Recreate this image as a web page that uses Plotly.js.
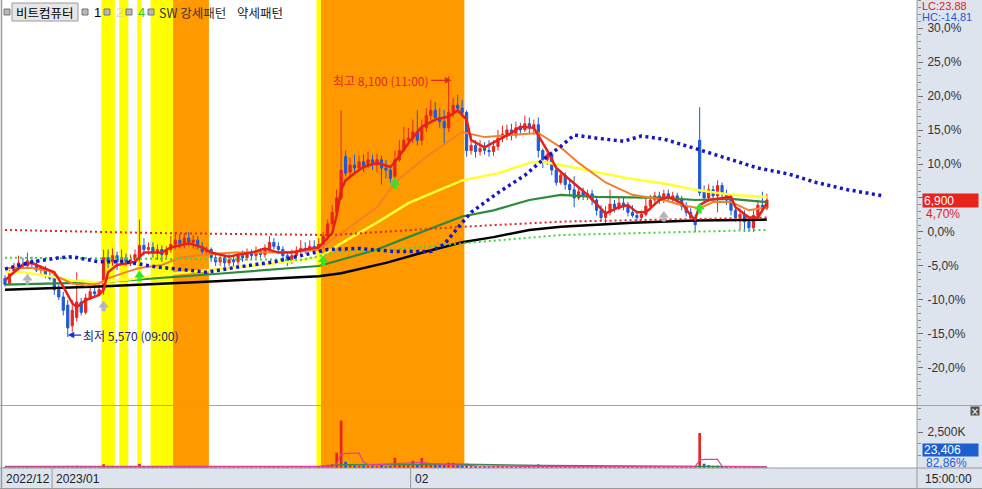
<!DOCTYPE html>
<html><head><meta charset="utf-8">
<script src="https://cdn.plot.ly/plotly-3.0.1.min.js"></script>
<style>html,body{margin:0;padding:0;background:#fff;overflow:hidden}#chart{width:982px;height:489px}</style>
</head><body><div id="chart"></div>
<script>
// ---------------- DATA ----------------
const stockName = "비트컴퓨터";
const basePrice = 6590;            // reference price for the % axis
const lastPrice = 6900;
const lastPctText = "4,70%";
const lastVolumeText = "23,406";
const lastVolumePctText = "82,86%";
const lcText = "LC:23,88";
const hcText = "HC:-14,81";
const highText = "최고 8,100 (11:00)";
const lowText = "최저 5,570 (09:00)";
const highBar = 99, highPrice = 8100;
const lowBar = 14, lowPrice = 5570;

const openPrice = [
 6140,6090,6200,6240,6280,6260,6310,6280,6220,6240,
 6170,6160,6030,5960,5880,5680,5760,5910,5810,5950,
 6010,5990,6030,6340,6300,6360,6300,6340,6300,6320,
 6350,6460,6420,6440,6400,6420,6370,6420,6470,6510,
 6480,6530,6490,6510,6450,6400,6420,6340,6300,6340,
 6290,6320,6300,6360,6340,6380,6360,6400,6370,6420,
 6490,6450,6420,6360,6300,6360,6400,6430,6420,6450,
 6420,6470,6550,6670,6780,6920,7320,7170,7240,7210,
 7270,7230,7290,7240,7290,7210,7190,7130,7290,7380,
 7480,7500,7560,7480,7600,7720,7770,7700,7660,7600,
 7750,7820,7790,7750,7380,7430,7370,7400,7380,7370,
 7420,7500,7540,7580,7530,7600,7580,7640,7600,7630,
 7380,7290,7340,7190,7070,7140,7050,7000,6920,6980,
 6940,6960,6900,6800,6730,6780,6860,6820,6870,6840,
 6780,6750,6730,6760,6840,6900,6940,6900,6960,6920,
 6940,6900,6840,6780,6730,7480,6980,6920,7000,6940,
 7040,6960,6900,6800,6730,6760,6690,6630,6750,6850,
 6820];
const highPriceArr = [
 6170,6220,6290,6360,6340,6390,6350,6320,6270,6260,
 6200,6180,6080,6010,5930,5930,6200,5950,5990,6070,
 6080,6080,6420,6420,6430,6400,6420,6380,6370,6420,
 6710,6530,6490,6490,6470,6460,6450,6550,6590,6570,
 6580,6590,6560,6550,6490,6450,6440,6380,6380,6370,
 6380,6370,6400,6410,6430,6420,6450,6430,6470,6550,
 6530,6490,6450,6400,6420,6450,6510,6490,6510,6510,
 6530,6590,6710,6850,7000,7770,7380,7310,7340,7330,
 7340,7370,7340,7350,7330,7290,7240,7380,7480,7610,
 7600,7680,7770,7680,7790,7870,7850,7790,7770,8100,
 7890,7920,7870,7770,7530,7480,7480,7460,7480,7480,
 7580,7620,7630,7640,7660,7650,7720,7700,7680,7700,
 7400,7380,7370,7240,7190,7170,7090,7130,7020,7020,
 7000,7000,6940,6850,6840,7000,6900,6920,6920,6880,
 6850,6800,6800,6940,6950,6980,6980,7000,7000,6980,
 6970,6940,6880,6820,6760,7800,7040,7050,7040,7090,
 7070,7000,6940,6850,6820,6800,6730,6800,6900,6980,
 6960];
const lowPriceArr = [
 6060,6080,6180,6220,6240,6240,6250,6200,6170,6140,
 6120,5980,5930,5780,5570,5620,5720,5780,5790,5930,
 5960,5970,5980,6240,6260,6220,6270,6260,6260,6280,
 6300,6360,6370,6340,6320,6300,6340,6390,6420,6430,
 6430,6450,6430,6420,6370,6360,6300,6260,6260,6240,
 6260,6240,6270,6300,6310,6320,6330,6340,6340,6390,
 6420,6380,6320,6260,6280,6340,6360,6380,6400,6390,
 6400,6430,6510,6630,6750,6900,7130,7110,7170,7190,
 7170,7210,7190,7170,7050,7110,7070,7110,7270,7370,
 7430,7450,7430,7430,7560,7680,7660,7600,7430,7560,
 7700,7750,7710,7320,7340,7310,7330,7340,7320,7330,
 7380,7460,7480,7480,7500,7530,7560,7540,7530,7310,
 7210,7240,7140,7040,7050,7000,6950,6830,6900,6900,
 6900,6850,6750,6690,6660,6750,6780,6800,6800,6740,
 6730,6690,6710,6740,6800,6850,6860,6870,6880,6880,
 6850,6800,6740,6690,6590,6940,6880,6880,6900,6780,
 6900,6850,6750,6690,6610,6590,6590,6590,6710,6780,
 6800];
const closePrice = [
 6080,6200,6240,6290,6260,6310,6280,6220,6240,6170,
 6140,6030,5960,5830,5660,5830,5910,5810,5950,6010,
 5990,6030,6340,6300,6360,6300,6340,6300,6320,6370,
 6460,6420,6440,6400,6420,6370,6420,6470,6510,6480,
 6530,6490,6510,6450,6400,6420,6340,6300,6340,6290,
 6320,6300,6360,6340,6380,6360,6400,6370,6420,6490,
 6450,6420,6360,6300,6360,6400,6430,6420,6450,6420,
 6470,6550,6670,6780,6920,7190,7160,7240,7210,7270,
 7230,7290,7240,7290,7210,7190,7110,7290,7380,7480,
 7500,7560,7480,7600,7720,7770,7700,7660,7600,7750,
 7820,7790,7750,7380,7430,7370,7400,7380,7370,7420,
 7500,7540,7580,7530,7600,7580,7640,7600,7630,7380,
 7290,7340,7190,7070,7140,7050,7000,6920,6980,6940,
 6960,6900,6800,6730,6780,6860,6820,6870,6840,6780,
 6750,6730,6760,6840,6900,6940,6900,6960,6920,6940,
 6900,6840,6780,6730,6660,6970,6920,7000,6940,7040,
 6960,6900,6800,6730,6760,6690,6630,6750,6850,6820,
 6900];
// volume in thousands of shares
const volumeK = [
 60,50,70,40,50,80,60,40,50,60,
 50,90,80,120,150,110,160,80,70,60,
 50,60,260,120,80,70,60,50,60,70,
 290,120,80,70,60,50,60,110,100,70,
 90,60,50,60,70,60,50,60,40,50,
 60,50,70,40,50,60,50,60,70,110,
 80,60,50,70,60,50,70,50,60,50,
 80,150,220,260,1070,3300,430,250,180,150,
 170,140,160,130,200,120,150,710,300,250,
 200,500,280,700,350,300,250,220,260,380,
 350,200,180,300,180,150,120,130,120,140,
 160,150,130,120,110,100,140,110,100,250,
 160,120,150,140,110,120,100,130,90,80,
 70,80,100,120,90,110,80,70,80,70,
 80,90,70,110,100,90,80,70,80,70,
 60,80,90,100,130,2430,300,200,150,160,
 120,80,60,70,50,60,40,60,50,28.2,
 23.4];

// moving-average lines (bar index -> price)
const ma5Idx = [0,2,4,6,8,11,13,15,16,18,21,22,23,25,29,31,35,37,41,44,46,50,52,55,58,61,64,67,70,73,74,75,76,78,80,83,86,87,90,93,96,99,101,103,104,107,110,113,115,118,121,123,127,130,134,137,139,141,143,146,148,151,153,154,155,157,162,163,166,168,170];
const ma5Val = [6120,6200,6270,6290,6250,6200,6060,5900,5860,5930,5980,6030,6200,6270,6300,6390,6390,6440,6480,6440,6390,6350,6370,6390,6430,6390,6390,6420,6440,6580,6750,7000,7090,7160,7220,7260,7220,7270,7450,7610,7680,7710,7770,7680,7480,7410,7480,7550,7610,7600,7380,7210,7060,6950,6770,6830,6850,6780,6780,6900,6930,6870,6750,6710,6850,6900,6930,6830,6730,6730,6870];
const ma20Idx = [0,4,6,10,12,15,18,21,23,27,30,35,39,44,51,59,66,70,75,83,87,94,102,107,113,119,124,128,134,140,147,151,155,158,162,166,170];
const ma20Val = [6240,6240,6240,6210,6150,6090,6070,6090,6140,6200,6240,6270,6340,6370,6390,6390,6400,6420,6580,6830,7070,7320,7560,7510,7530,7550,7410,7260,7070,6950,6900,6850,6820,6880,6880,6800,6830];
const ma60Idx = [0,4,10,15,21,28,34,45,61,70,75,83,90,102,110,117,120,124,132,139,147,154,162,170];
const ma60Val = [6200,6200,6160,6120,6100,6130,6170,6220,6290,6340,6480,6680,6870,7090,7160,7260,7270,7240,7170,7110,7060,7000,6950,6930];
const ma120Idx = [0,21,46,70,75,83,90,102,109,117,124,132,147,154,162,170];
const ma120Val = [6080,6100,6180,6260,6320,6420,6540,6740,6800,6900,6950,6930,6920,6900,6910,6880];
const ma240Idx = [0,21,46,70,75,85,94,102,109,117,124,140,154,170];
const ma240Val = [6030,6060,6110,6160,6190,6290,6400,6490,6540,6610,6640,6680,6700,6710];
const redDotIdx = [0,33,73,88,102,124,170];
const redDotVal = [6610,6580,6560,6600,6640,6690,6730];
const greenDotIdx = [0,66,75,87,102,124,170];
const greenDotVal = [6340,6320,6400,6420,6480,6560,6610];
const spanIdx = [0,6,12,15,21,27,34,45,52,60,72,79,87,95,98,100,102,104,110,116,120,124,127,132,138,142,147,154,160,168,175,181,188,196];
const spanVal = [6230,6300,6340,6350,6300,6300,6250,6200,6250,6300,6420,6430,6400,6400,6470,6580,6680,6780,6970,7140,7290,7420,7530,7500,7470,7520,7490,7400,7320,7210,7150,7070,7000,6940];
const volMaIdx = [0,73,74,75,76,79,80,81,83,87,91,93,95,100,105,120,154,155,156,159,160,170];
const volMaVal = [80,100,300,950,1020,1040,400,260,230,300,350,400,300,200,150,100,90,560,600,600,120,70];
const volMa2Idx = [0,70,75,95,102,120,150,170];
const volMa2Val = [110,100,220,280,260,180,110,90];

// signal arrows
const grayArrowIdx = [5,22,147];
const grayArrowVal = [6140,5880,6750];
const greenArrowIdx = [30,71,87,155];
const greenArrowVal = [6170,6320,7070,6830];

// coloured pattern bands: [firstBar, lastBar, colour]
const bandStart = [22,26,30,33,38,70,71];
const bandEnd   = [24,27,30,37,45,70,102];
const bandColor = ["#ffff00","#ffff00","#ffff00","#ffff00","#ff9900","#ffff00","#ff9900"];

// axis labels
const pctTicks = [30,25,20,15,10,5,0,-5,-10,-15,-20];
const hiddenPctLabels = [5];   // covered by the price tag in the original
const dateTickIdx = [10.5, 90.5];
const dateTickText = ["2023/01","02"];
const firstDateText = "2022/12";
const lastTimeText = "15:00:00";
const legendItems = [
  {text:"1", color:"#000000", x:92},
  {text:"2", color:"#d4d4d4", x:114},
  {text:"4", color:"#22cc22", x:136},
  {text:"SW 강세패턴", color:"#333333", x:157},
  {text:"약세패턴", color:"#222222", x:235}
];

// ---------------- LAYOUT HELPERS ----------------
const W = 982, H = 489, ML = 3, MR = 65, MB = 21;
const PW = W - ML - MR, PH = H - MB;
const px = x => (x - ML) / PW;
const py = y => (PH - y) / PH;
const yTop = 8840, yPerPx = 9.7;
const priceRange = [yTop - yPerPx * 405, yTop];
const volRange = [0, (PH - 406) / 36 * 2500];
const panelBg = "#dde4ee";
const idx = closePrice.map((_, i) => i);
const fontNum = "Liberation Sans, Arial, sans-serif";
const fontKr = "Noto Sans CJK KR, sans-serif";

const traces = [];
traces.push({
  type:"candlestick", x:idx, open:openPrice, high:highPriceArr, low:lowPriceArr, close:closePrice,
  xaxis:"x", yaxis:"y", whiskerwidth:0,
  increasing:{line:{color:"#e8251f", width:1}, fillcolor:"#e8251f"},
  decreasing:{line:{color:"#1c5ad8", width:1}, fillcolor:"#1c5ad8"},
  hoverinfo:"skip", showlegend:false
});
const line = (xs, ys, color, width, dash, yaxis) => ({
  type:"scatter", mode:"lines", x:xs, y:ys, xaxis:"x", yaxis:yaxis||"y",
  line:{color:color, width:width, dash:dash||"solid"}, hoverinfo:"skip", showlegend:false
});
traces.push(line(ma240Idx, ma240Val, "#000000", 2.5));
traces.push(line(ma120Idx, ma120Val, "#2e8b3a", 2.2));
traces.push(line(ma60Idx, ma60Val, "#ffff33", 2.5));
traces.push(line(ma20Idx, ma20Val, "#f2802c", 2));
traces.push(line(redDotIdx, redDotVal, "#e02828", 2, "2px,3px"));
traces.push(line(greenDotIdx, greenDotVal, "#3fd63f", 2, "2px,3px"));
traces.push(line(ma5Idx, ma5Val, "#e8201a", 2.5));
traces.push(line(spanIdx, spanVal, "#1717c4", 3.5, "3px,3.5px"));
// arrows
const arrowTr = (xs, ys, color) => [
  {type:"scatter", mode:"markers", x:xs, y:ys.map(v=>v-40), xaxis:"x", yaxis:"y",
   marker:{symbol:"square", size:4, color:color}, hoverinfo:"skip", showlegend:false},
  {type:"scatter", mode:"markers", x:xs, y:ys, xaxis:"x", yaxis:"y",
   marker:{symbol:"triangle-up", size:9, color:color}, hoverinfo:"skip", showlegend:false}
];
traces.push(...arrowTr(grayArrowIdx, grayArrowVal, "#b4b4bc"));
traces.push(...arrowTr(greenArrowIdx, greenArrowVal, "#2ee62e"));
// volume
const volColors = closePrice.map((c, i) => (i === 0 ? c >= openPrice[0] : c >= closePrice[i-1]) ? "#e8251f" : "#1c5ad8");
traces.push({type:"bar", x:idx, y:volumeK, xaxis:"x", yaxis:"y2", width:0.6,
  marker:{color:volColors, line:{width:0}}, hoverinfo:"skip", showlegend:false});
traces.push(line(volMa2Idx, volMa2Val, "#3c8c50", 1.5, "solid", "y2"));
traces.push(line(volMaIdx, volMaVal, "#e0409c", 1.2, "solid", "y2"));

// ---------------- SHAPES ----------------
const shapes = [];
bandStart.forEach((s, i) => shapes.push({type:"rect", xref:"x", yref:"paper", x0:s-0.5, x1:bandEnd[i]+0.5, y0:0, y1:1,
  fillcolor:bandColor[i], line:{width:0}, layer:"below"}));
shapes.push({type:"rect", xref:"paper", yref:"paper", x0:1, x1:px(W), y0:py(H), y1:1, fillcolor:panelBg, line:{width:0}, layer:"below"});
shapes.push({type:"rect", xref:"paper", yref:"paper", x0:px(0), x1:px(W), y0:py(H), y1:0, fillcolor:panelBg, line:{width:0}, layer:"below"});
shapes.push({type:"line", xref:"paper", yref:"paper", x0:px(0), x1:px(W), y0:py(405.5), y1:py(405.5), line:{color:"#a4a4a4", width:1}});
shapes.push({type:"line", xref:"paper", yref:"paper", x0:px(0), x1:px(W), y0:0, y1:0, line:{color:"#9a9a9a", width:1}});
shapes.push({type:"line", xref:"paper", yref:"paper", x0:px(0), x1:px(W), y0:py(H-0.5), y1:py(H-0.5), line:{color:"#9a9a9a", width:1}});
shapes.push({type:"line", xref:"paper", yref:"paper", x0:1, x1:1, y0:py(H), y1:1, line:{color:"#9a9a9a", width:1}});
shapes.push({type:"line", xref:"paper", yref:"paper", x0:px(1.5), x1:px(1.5), y0:py(H), y1:1, line:{color:"#9a9a9a", width:1.5}});
dateTickIdx.forEach(v => shapes.push({type:"line", xref:"x", yref:"paper", x0:v, x1:v, y0:py(H), y1:0, line:{color:"#9a9a9a", width:1}}));
// legend boxes
[4, 82, 104, 126, 148].forEach(x => shapes.push({type:"rect", xref:"paper", yref:"paper", x0:px(x), x1:px(x+6), y0:py(15), y1:py(9),
  fillcolor:"#b8b8b8", line:{color:"#747474", width:1}}));
shapes.push({type:"rect", xref:"paper", yref:"paper", x0:px(12), x1:px(78), y0:py(21), y1:py(3),
  fillcolor:"#e6e6e6", line:{color:"#9a9a9a", width:1}});

// ---------------- ANNOTATIONS ----------------
const ann = [];
const txt = (text, x, y, color, size, family, xanchor, extra) => Object.assign({
  text:text, xref:"paper", yref:"paper", x:px(x), y:py(y), xanchor:xanchor||"left", yanchor:"middle",
  showarrow:false, font:{color:color, size:size, family:family}
}, extra||{});
ann.push(txt(stockName, 45, 12, "#000", 12.5, fontKr, "center"));
legendItems.forEach(it => ann.push(txt(it.text, it.x, 12, it.color, it.text.length > 1 ? 12.5 : 13, it.text.length > 1 ? fontKr : fontNum)));
ann.push(txt(lcText, 921, 5.5, "#e02020", 11, fontNum, "left", {bgcolor:panelBg, borderpad:0, height:11}));
ann.push(txt(hcText, 921, 16.5, "#2a55cc", 11, fontNum, "left", {bgcolor:panelBg, borderpad:0, height:11}));
ann.push({text:lastPrice.toLocaleString("en-US"), xref:"paper", yref:"y", x:px(922), y:lastPrice, xanchor:"left", yanchor:"middle",
  showarrow:false, bgcolor:"#e8241c", width:53, height:11, align:"left", borderpad:1, font:{color:"#fff", size:12, family:fontNum}});
ann.push({text:lastPctText, xref:"paper", yref:"y", x:px(924), y:lastPrice, yshift:-14, xanchor:"left", yanchor:"middle",
  showarrow:false, font:{color:"#e02020", size:12, family:fontNum}});
ann.push(txt(lastVolumeText, 922, 449.5, "#fff", 12, fontNum, "left", {bgcolor:"#1e5fcf", width:53, height:10, align:"left", borderpad:1}));
ann.push(txt(lastVolumePctText, 924, 463, "#2060d0", 12, fontNum));
ann.push(txt("×", 975, 411, "#fff", 10, "DejaVu Sans", "center", {bgcolor:"#505050", width:8, height:8, borderpad:0}));
ann.push(txt(firstDateText, 4, 479, "#222", 12, fontNum));
dateTickIdx.forEach((v, i) => ann.push({text:dateTickText[i], xref:"x", yref:"paper", x:v, xshift:2, y:py(479), xanchor:"left", yanchor:"middle",
  showarrow:false, font:{color:"#222", size:12, family:fontNum}}));
ann.push(txt(lastTimeText, 949, 479, "#222", 12, fontNum, "center"));
ann.push({text:highText, xref:"x", yref:"y", x:highBar + 0.6, y:highPrice, yshift:-4, ax:-70, ay:0,
  showarrow:true, arrowhead:2, arrowsize:1, arrowwidth:1.3, arrowcolor:"#e02828", standoff:0,
  font:{color:"#e02828", size:12, family:fontKr}});
ann.push({text:lowText, xref:"x", yref:"y", x:lowBar, y:lowPrice, yshift:2, ax:63, ay:0,
  showarrow:true, arrowhead:2, arrowsize:1, arrowwidth:1.3, arrowcolor:"#1a2ee0", standoff:0,
  font:{color:"#1c1c78", size:12, family:fontKr}});

// ---------------- AXES ----------------
const fmtPct = p => hiddenPctLabels.includes(p) ? "" : p.toFixed(1).replace(".", ",") + "%";
const minorPct = [];
for (let p = -25; p <= 34; p++) if (p % 5 !== 0) minorPct.push(basePrice * (1 + p / 100));

const layout = {
  width:W, height:H, margin:{l:ML, r:MR, t:0, b:MB, pad:0},
  paper_bgcolor:"#ffffff", plot_bgcolor:"rgba(0,0,0,0)",
  showlegend:false, dragmode:false, bargap:0.3,
  xaxis:{range:[-0.45, 203.5], anchor:"y2", showticklabels:false, ticks:"", showgrid:false, zeroline:false,
    showline:false, rangeslider:{visible:false}, fixedrange:true},
  yaxis:{domain:[py(405), 1], range:priceRange, side:"right", anchor:"x",
    tickmode:"array", tickvals:pctTicks.map(p => basePrice * (1 + p / 100)), ticktext:pctTicks.map(fmtPct),
    ticks:"outside", ticklen:5, tickcolor:"#707070", tickwidth:1, showgrid:false, zeroline:false, showline:false,
    tickfont:{color:"#333", size:12, family:fontNum}, ticklabelstandoff:2, fixedrange:true,
    minor:{tickmode:"array", tickvals:minorPct, ticks:"outside", ticklen:3, tickcolor:"#8a8a8a", showgrid:false}},
  yaxis2:{domain:[0, py(406)], range:volRange, side:"right", anchor:"x",
    tickmode:"array", tickvals:[2500], ticktext:["2,500K"],
    ticks:"outside", ticklen:5, tickcolor:"#707070", showgrid:false, zeroline:false, showline:false,
    tickfont:{color:"#333", size:12, family:fontNum}, ticklabelstandoff:2, fixedrange:true,
    minor:{tickmode:"array", tickvals:[850,1700,3350,4150], ticks:"outside", ticklen:3, tickcolor:"#8a8a8a", showgrid:false}},
  shapes:shapes, annotations:ann
};
Plotly.newPlot("chart", traces, layout, {staticPlot:true, displayModeBar:false});
</script>
</body></html>
